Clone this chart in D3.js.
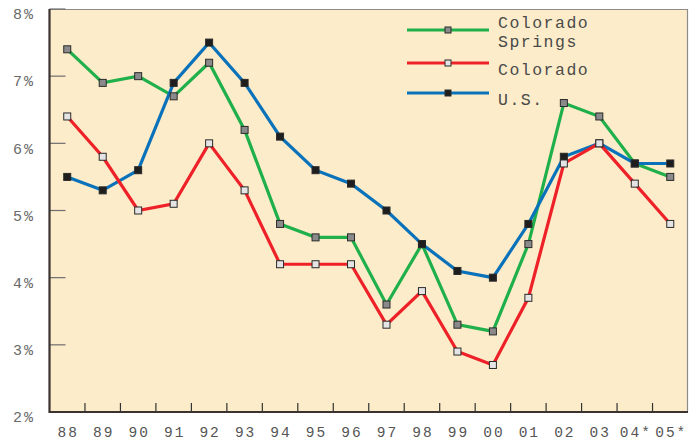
<!DOCTYPE html>
<html>
<head>
<meta charset="utf-8">
<script src="https://cdn.jsdelivr.net/npm/d3@7"></script>
<style>
    body { margin: 0; background: #fff; }
    text { font-family: "Liberation Mono", "DejaVu Sans Mono", monospace; }
</style>
</head>
<body>
<svg id="chart"></svg>
<script>
// Chart data
const years = ['88', '89', '90', '91', '92', '93', '94', '95', '96', '97', '98', '99', '00', '01', '02', '03', '04*', '05*'];
const springs = [7.4, 6.9, 7.0, 6.7, 7.2, 6.2, 4.8, 4.6, 4.6, 3.6, 4.5, 3.3, 3.2, 4.5, 6.6, 6.4, 5.7, 5.5];
const colorado = [6.4, 5.8, 5.0, 5.1, 6.0, 5.3, 4.2, 4.2, 4.2, 3.3, 3.8, 2.9, 2.7, 3.7, 5.7, 6.0, 5.4, 4.8];
const us = [5.5, 5.3, 5.6, 6.9, 7.5, 6.9, 6.1, 5.6, 5.4, 5.0, 4.5, 4.1, 4.0, 4.8, 5.8, 6.0, 5.7, 5.7];
const yTicks = [2, 3, 4, 5, 6, 7, 8];

const series = [
    { name: ['Colorado', 'Springs'], values: springs, color: '#20b04b', marker: '#8a8a8a' },
    { name: ['Colorado'], values: colorado, color: '#ee2129', marker: '#e4e4e4' },
    { name: ['U.S.'], values: us, color: '#0a72ba', marker: '#1e1e1e' }
];
// lines are stacked green, blue, red
const drawOrder = [0, 2, 1];

const width = 698;
const height = 440;
const margin = { top: 9, right: 10, bottom: 28, left: 49.5 };

const svg = d3.select('#chart')
    .attr('width', width)
    .attr('height', height);

const xScale = d3.scaleBand()
    .domain(years)
    .range([margin.left, width - margin.right]);
const yScale = d3.scaleLinear()
    .domain([2, 8])
    .range([height - margin.bottom, margin.top]);

const x0 = margin.left, x1 = width - margin.right;
const y0 = height - margin.bottom, y1 = margin.top;

// Background
svg.append('rect')
    .attr('x', x0)
    .attr('y', y1)
    .attr('width', x1 - x0)
    .attr('height', y0 - y1)
    .attr('fill', '#fcecc9');

// Top and right border
svg.append('path')
    .attr('d', `M${x0},${y1 + 0.5}H${x1 - 0.5}V${y0}`)
    .attr('fill', 'none')
    .attr('stroke', '#8c8c8c')
    .attr('stroke-width', 1.2);

// Y ticks (pointing into the plot)
svg.append('g')
    .selectAll('line')
    .data(yTicks.slice(1))
    .join('line')
    .attr('x1', x0)
    .attr('x2', x0 + 16)
    .attr('y1', d => yScale(d))
    .attr('y2', d => yScale(d))
    .attr('stroke', '#6e6e6e')
    .attr('stroke-width', 1.2);

svg.append('g')
    .selectAll('text')
    .data(yTicks)
    .join('text')
    .attr('x', 35)
    .attr('y', d => yScale(d) + 5)
    .attr('dy', '0.35em')
    .attr('text-anchor', 'end')
    .attr('font-size', 15)
    .attr('letter-spacing', 2)
    .attr('fill', '#6a6a6a')
    .text(d => d + '%');

// X ticks at band boundaries
svg.append('g')
    .selectAll('line')
    .data(years.slice(1))
    .join('line')
    .attr('x1', d => xScale(d))
    .attr('x2', d => xScale(d))
    .attr('y1', y0)
    .attr('y2', y0 - 9)
    .attr('stroke', '#333')
    .attr('stroke-width', 1.2);

svg.append('g')
    .selectAll('text')
    .data(years)
    .join('text')
    .attr('x', d => xScale(d) + xScale.bandwidth() / 2 + 1)
    .attr('y', y0 + 20)
    .attr('dy', '0.35em')
    .attr('text-anchor', 'middle')
    .attr('font-size', 14.5)
    .attr('letter-spacing', 2)
    .attr('fill', '#555')
    .text(d => d);

// Left and bottom axis lines
svg.append('path')
    .attr('d', `M${x0},${y1}V${y0}H${x1}`)
    .attr('fill', 'none')
    .attr('stroke', '#3a3330')
    .attr('stroke-width', 2.2);

// Lines
const line = d3.line()
    .x((d, i) => xScale(years[i]) + xScale.bandwidth() / 2)
    .y(d => yScale(d));

drawOrder.forEach(k => {
    const s = series[k];
    svg.append('path')
        .datum(s.values)
        .attr('d', line)
        .attr('fill', 'none')
        .attr('stroke', s.color)
        .attr('stroke-width', 3.2)
        .attr('stroke-linejoin', 'miter');
});

// Markers
const mk = 7;
drawOrder.forEach(k => {
    const s = series[k];
    svg.append('g')
        .selectAll('rect')
        .data(s.values)
        .join('rect')
        .attr('x', (d, i) => xScale(years[i]) + xScale.bandwidth() / 2 - mk / 2)
        .attr('y', d => yScale(d) - mk / 2)
        .attr('width', mk)
        .attr('height', mk)
        .attr('fill', s.marker)
        .attr('stroke', '#2a2a2a')
        .attr('stroke-width', 1);
});

// Legend
const legendY = [30, 63, 93];
const legend = svg.append('g');
series.forEach((s, i) => {
    const ly = legendY[i];
    legend.append('line')
        .attr('x1', 407)
        .attr('x2', 489)
        .attr('y1', ly)
        .attr('y2', ly)
        .attr('stroke', s.color)
        .attr('stroke-width', 3.2);
    legend.append('rect')
        .attr('x', 448 - 3)
        .attr('y', ly - 3)
        .attr('width', 6)
        .attr('height', 6)
        .attr('fill', s.marker)
        .attr('stroke', '#2a2a2a')
        .attr('stroke-width', 1);
    const textY = i === 0 ? 22 : ly + 6;
    s.name.forEach((t, j) => {
        legend.append('text')
            .attr('x', 498)
            .attr('y', textY + j * 19)
            .attr('dy', '0.35em')
            .attr('font-size', 16.5)
            .attr('letter-spacing', 1.5)
            .attr('fill', '#4a4a4a')
            .text(t);
    });
});
</script>
</body>
</html>
